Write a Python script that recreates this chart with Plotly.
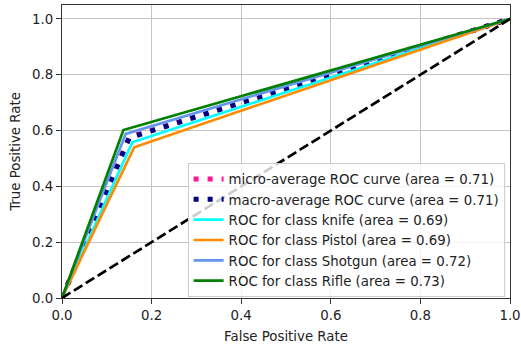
import plotly.graph_objects as go

# ROC operating points (false positive rate, true positive rate) per curve
micro_fpr = [0.0, 0.150, 1.0]
micro_tpr = [0.0, 0.576, 1.0]
macro_fpr = [0.0, 0.150, 1.0]
macro_tpr = [0.0, 0.574, 1.0]

class_names = ["knife", "Pistol", "Shotgun", "Rifle"]
class_auc = [0.69, 0.69, 0.72, 0.73]
class_fpr = [[0.0, 0.157, 1.0], [0.0, 0.161, 1.0], [0.0, 0.142, 1.0], [0.0, 0.137, 1.0]]
class_tpr = [[0.0, 0.558, 1.0], [0.0, 0.540, 1.0], [0.0, 0.588, 1.0], [0.0, 0.602, 1.0]]
class_colors = ["aqua", "darkorange", "cornflowerblue", "green"]

micro_auc = 0.71
macro_auc = 0.71

chance_x = [0.0, 1.0]
chance_y = [0.0, 1.0]

tick_vals = [0.0, 0.2, 0.4, 0.6, 0.8, 1.0]
tick_text = ["0.0", "0.2", "0.4", "0.6", "0.8", "1.0"]

FONT = "DejaVu Sans"
FS = 13.33

fig = go.Figure()
fig.add_trace(go.Scatter(
    x=micro_fpr, y=micro_tpr, mode="lines",
    line=dict(color="deeppink", width=5, dash="5px,9px"),
    name=f"micro-average ROC curve (area = {micro_auc:.2f})",
))
fig.add_trace(go.Scatter(
    x=macro_fpr, y=macro_tpr, mode="lines",
    line=dict(color="navy", width=5, dash="5px,9px"),
    name=f"macro-average ROC curve (area = {macro_auc:.2f})",
))
for name, auc, fx, ty, col in zip(class_names, class_auc, class_fpr, class_tpr, class_colors):
    fig.add_trace(go.Scatter(
        x=fx, y=ty, mode="lines",
        line=dict(color=col, width=2.7),
        name=f"ROC for class {name} (area = {auc:.2f})",
    ))
fig.add_trace(go.Scatter(
    x=chance_x, y=chance_y, mode="lines",
    line=dict(color="black", width=2.7, dash="10px,4px"),
    showlegend=False, hoverinfo="skip",
))

axis_common = dict(
    showline=True, linecolor="#333333", linewidth=1.1, mirror=True,
    ticks="outside", ticklen=5, tickcolor="#333333", tickwidth=1.1,
    showgrid=True, gridcolor="#c4c4c4", gridwidth=1,
    zeroline=False, tickmode="array", tickvals=tick_vals, ticktext=tick_text,
    ticklabeloverflow="allow", automargin=False,
    tickfont=dict(family=FONT, size=FS, color="#222222"),
)

fig.update_layout(
    width=521, height=344,
    margin=dict(l=62, r=11, t=5, b=46),
    plot_bgcolor="white", paper_bgcolor="white",
    font=dict(family=FONT, size=FS, color="#222222"),
    xaxis=dict(range=[0, 1], title=dict(text="False Positive Rate", font=dict(size=FS), standoff=9), **axis_common),
    yaxis=dict(range=[0, 1.05], title=dict(text="True Positive Rate", font=dict(size=FS), standoff=8), **axis_common),
    legend=dict(
        x=0.988, y=0.004, xanchor="right", yanchor="bottom",
        bgcolor="rgba(255,255,255,0.8)", bordercolor="#cccccc", borderwidth=1,
        font=dict(family=FONT, size=FS, color="#222222"),
        itemwidth=30, tracegroupgap=0,
    ),
    showlegend=True,
)

fig.write_html("out.html")
